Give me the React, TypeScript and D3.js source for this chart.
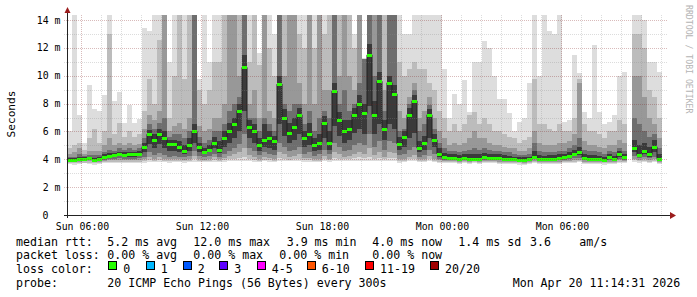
import React from 'react';
import * as d3 from 'd3';

// ---- data: 15-minute steps starting Sun Apr 19 2026 05:18 ----
const median: (number | null)[] = [
  3.95,3.95,4.0,4.05,4.1,3.95,4.05,4.2,4.25,4.3,4.4,4.3,4.35,4.35,4.4,
  4.9,5.8,5.4,5.8,5.5,5.1,5.1,4.9,4.6,5.0,6.0,4.9,4.5,4.7,5.2,
  4.7,5.5,6.0,6.5,7.5,10.6,6.3,6.0,5.0,5.4,5.5,5.3,9.4,7.0,5.9,
  6.3,7.2,5.5,5.8,5.0,5.2,6.6,5.2,8.9,6.8,6.0,6.2,7.2,8.0,7.3,
  11.5,7.2,9.6,6.2,9.5,8.7,5.1,5.6,7.2,8.2,4.8,5.2,7.2,5.4,4.4,
  4.15,4.1,4.1,4.05,4.1,4.05,4.05,4.05,4.2,4.1,4.1,4.1,4.05,4.0,4.0,
  3.95,3.95,4.0,4.2,4.05,4.0,4.05,4.05,4.1,4.15,4.25,4.4,4.5,4.1,4.05,
  4.05,4.0,3.95,4.15,4.0,4.35,4.15,null,4.8,4.3,4.6,4.35,4.9,4.05,null,
];

const hi1: (number | null)[] = [
  6.0,14.4,7.2,5.2,9.3,7.6,7.5,8.6,14.4,8.2,8.8,6.6,7.9,6.6,6.9,
  13.4,13.2,14.4,14.4,14.4,11.0,14.4,14.4,14.4,14.4,14.4,9.8,14.4,11.0,14.4,
  14.4,14.4,14.4,14.4,14.4,14.4,14.4,14.4,11.6,14.4,14.4,13.0,14.4,14.4,14.4,
  14.4,14.4,14.4,14.4,14.4,14.4,14.4,14.4,14.4,14.4,14.4,14.4,13.0,14.4,11.3,
  14.4,14.4,14.4,14.4,14.4,14.4,14.4,13.0,13.0,14.4,14.4,14.4,14.4,14.4,14.4,
  10.5,7.0,8.7,8.0,9.7,7.4,11.0,11.0,12.5,12.0,10.0,8.3,8.3,7.3,6.0,
  6.7,7.0,9.5,14.4,10.0,14.4,13.2,13.0,14.4,6.7,6.8,11.5,10.2,7.4,7.0,
  12.2,7.4,6.5,6.7,7.2,10.0,10.3,null,14.4,14.4,14.0,11.0,11.0,10.3,null,
];
const hi2: (number | null)[] = [
  4.8,5.0,5.2,4.7,5.5,6.2,5.2,6.0,13.0,5.8,6.6,5.6,6.0,5.6,5.8,
  7.5,9.8,8.0,12.6,14.4,7.0,10.0,14.4,9.8,14.4,14.4,9.0,8.0,9.0,11.0,
  11.0,14.4,14.4,14.4,14.4,14.4,11.0,14.4,10.8,14.4,12.0,10.0,14.4,14.4,14.4,
  14.4,13.0,12.0,14.4,12.0,14.4,13.0,14.4,14.4,14.4,14.4,14.4,12.0,14.4,11.2,
  14.4,14.4,14.4,14.4,14.4,14.4,11.0,10.0,10.5,11.0,10.5,10.5,9.5,9.0,7.5,
  7.0,6.0,6.5,6.0,6.5,7.2,7.4,6.5,7.0,6.5,6.0,6.0,5.8,5.6,5.5,
  5.2,5.4,5.6,9.8,6.5,6.5,6.2,6.0,6.5,6.0,6.0,7.0,9.8,6.5,6.0,
  6.0,5.8,5.5,6.0,6.0,6.8,6.5,null,13.0,13.0,12.0,9.0,8.5,7.0,null,
];
const hi3: (number | null)[] = [
  4.4,4.5,4.8,4.4,4.6,4.6,4.6,5.0,5.5,5.0,5.2,5.0,5.2,5.0,5.1,
  6.2,7.2,6.8,7.5,14.4,6.0,6.4,6.6,6.2,7.0,14.4,6.4,6.0,6.2,7.0,
  7.0,8.0,14.4,14.4,10.0,14.4,8.0,9.0,7.0,14.4,7.5,7.0,14.4,10.0,14.4,
  14.4,9.5,8.0,14.4,8.0,14.4,9.0,9.0,14.4,10.0,14.4,10.0,9.0,14.4,11.2,
  14.4,14.4,14.4,9.0,14.4,14.4,7.5,7.0,8.5,9.5,7.0,7.5,8.5,7.0,6.0,
  5.5,5.0,5.2,5.0,5.2,5.5,6.0,5.5,5.5,5.2,5.0,5.0,4.9,4.8,4.8,
  4.6,4.6,4.8,6.0,5.2,5.0,5.0,5.0,5.2,5.2,5.3,5.8,9.5,5.3,5.0,
  5.0,4.9,4.8,5.0,5.0,5.4,5.2,null,10.0,10.0,8.5,7.0,6.5,5.5,null,
];
const hi4: (number | null)[] = [
  4.2,4.2,4.4,4.25,4.3,4.3,4.3,4.5,4.7,4.6,4.8,4.7,4.8,4.7,4.8,
  5.5,6.5,6.2,6.6,7.0,5.6,5.8,5.8,5.5,6.0,14.4,5.6,5.2,5.4,6.0,
  6.0,6.5,7.5,8.0,8.5,14.4,7.0,7.0,6.0,7.0,6.5,6.0,14.4,8.0,7.5,
  8.0,8.0,6.5,7.5,6.0,7.0,7.5,7.0,14.4,8.0,9.0,7.5,8.0,9.5,11.2,
  14.4,10.0,14.4,7.5,14.4,14.4,6.0,6.2,8.0,9.0,6.0,6.5,7.9,6.2,5.2,
  4.8,4.6,4.6,4.5,4.6,4.7,4.8,4.7,4.8,4.7,4.6,4.6,4.5,4.5,4.4,
  4.3,4.3,4.4,5.2,4.6,4.5,4.5,4.5,4.6,4.6,4.8,5.0,5.5,4.7,4.6,
  4.6,4.5,4.4,4.6,4.5,4.8,4.6,null,7.0,6.5,6.0,5.6,5.8,4.8,null,
];
const hi5: (number | null)[] = [
  4.1,4.1,4.2,4.15,4.2,4.1,4.2,4.35,4.45,4.45,4.55,4.5,4.55,4.55,4.6,
  5.2,6.1,5.8,6.2,6.0,5.4,5.4,5.3,5.0,5.5,6.5,5.2,4.8,5.0,5.6,
  5.3,6.0,6.6,7.0,8.0,11.5,6.8,6.5,5.5,6.5,6.0,5.7,10.0,7.6,6.6,
  7.0,7.7,6.0,6.6,5.5,5.8,7.1,6.0,9.5,7.4,6.8,6.8,7.7,8.6,8.0,
  12.3,8.2,10.3,6.8,10.0,9.3,5.6,6.0,7.7,8.6,5.3,5.7,7.6,5.8,4.8,
  4.45,4.35,4.35,4.3,4.35,4.35,4.4,4.35,4.45,4.35,4.35,4.35,4.3,4.25,4.2,
  4.15,4.15,4.2,4.6,4.3,4.25,4.3,4.3,4.35,4.4,4.5,4.7,4.9,4.4,4.3,
  4.3,4.25,4.2,4.35,4.25,4.6,4.4,null,5.4,5.0,5.2,4.9,5.4,4.4,null,
];

const lo1: (number | null)[] = [
  3.65,3.62,3.65,3.7,3.68,3.6,3.65,3.7,3.72,3.7,3.75,3.7,3.72,3.7,3.72,
  3.75,3.8,3.78,3.8,3.78,3.75,3.8,3.78,3.75,3.8,3.82,3.8,3.78,3.8,3.82,
  3.78,3.8,3.85,3.88,3.9,3.9,3.85,3.82,3.8,3.85,3.82,3.8,3.9,3.88,3.85,
  3.85,3.9,3.82,3.8,3.78,3.8,3.85,3.82,3.9,3.88,3.85,3.85,3.9,3.9,3.88,
  3.9,3.85,3.9,3.85,3.9,3.9,3.75,3.8,3.85,3.88,3.78,3.8,3.85,3.8,3.75,
  3.72,3.7,3.7,3.68,3.7,3.68,3.7,3.68,3.72,3.7,3.7,3.68,3.68,3.66,3.65,
  3.62,3.6,3.65,3.7,3.66,3.65,3.66,3.66,3.68,3.7,3.72,3.75,3.78,3.68,3.66,
  3.66,3.64,3.62,3.66,3.65,3.72,3.7,null,3.8,3.75,3.78,3.75,3.8,3.68,null,
];
const lo2: (number | null)[] = [
  3.72,3.7,3.72,3.76,3.75,3.7,3.72,3.78,3.8,3.8,3.82,3.8,3.8,3.8,3.82,
  3.85,3.95,3.9,3.95,3.9,3.85,3.9,3.88,3.85,3.9,4.0,3.9,3.85,3.9,3.95,
  3.88,3.92,4.0,4.05,4.1,4.2,4.0,3.95,3.9,3.95,3.92,3.9,4.1,4.05,3.98,
  4.0,4.05,3.95,3.92,3.88,3.9,4.0,3.92,4.1,4.05,4.0,4.0,4.1,4.15,4.1,
  4.2,4.0,4.1,4.0,4.1,4.1,3.85,3.9,4.0,4.0,3.88,3.9,4.0,3.9,3.82,
  3.8,3.78,3.78,3.76,3.78,3.76,3.78,3.76,3.8,3.78,3.78,3.76,3.76,3.74,3.73,
  3.7,3.68,3.72,3.8,3.74,3.72,3.74,3.74,3.76,3.78,3.8,3.84,3.86,3.76,3.74,
  3.74,3.72,3.7,3.75,3.73,3.82,3.78,null,3.92,3.85,3.88,3.84,3.9,3.76,null,
];
const lo3: (number | null)[] = [
  3.8,3.78,3.82,3.85,3.85,3.78,3.82,3.88,3.92,3.92,3.95,3.92,3.92,3.92,3.95,
  4.0,4.15,4.05,4.15,4.05,4.0,4.05,4.0,3.98,4.05,4.25,4.05,3.98,4.05,4.15,
  4.0,4.1,4.25,4.35,4.5,4.8,4.3,4.2,4.05,4.15,4.1,4.05,4.5,4.35,4.2,
  4.25,4.35,4.1,4.1,4.02,4.05,4.25,4.05,4.5,4.35,4.2,4.25,4.4,4.5,4.4,
  4.8,4.3,4.5,4.2,4.5,4.45,4.0,4.05,4.2,4.3,4.0,4.05,4.25,4.05,3.92,
  3.88,3.85,3.85,3.83,3.86,3.83,3.85,3.84,3.88,3.86,3.86,3.84,3.84,3.82,3.8,
  3.78,3.76,3.8,3.9,3.82,3.8,3.82,3.82,3.84,3.86,3.9,3.95,3.98,3.84,3.82,
  3.82,3.8,3.78,3.84,3.8,3.92,3.86,null,4.05,3.95,4.0,3.94,4.02,3.84,null,
];
const lo4: (number | null)[] = [
  3.86,3.85,3.88,3.92,3.92,3.85,3.9,3.98,4.02,4.04,4.08,4.04,4.05,4.05,4.08,
  4.2,4.5,4.3,4.45,4.3,4.2,4.25,4.2,4.15,4.25,4.6,4.25,4.15,4.25,4.4,
  4.2,4.4,4.6,4.8,5.1,5.8,4.8,4.6,4.3,4.5,4.4,4.3,5.2,4.9,4.6,
  4.7,4.9,4.4,4.5,4.25,4.35,4.7,4.35,5.2,4.9,4.6,4.7,5.0,5.2,5.0,
  5.8,4.9,5.3,4.7,5.3,5.2,4.3,4.4,4.7,4.9,4.2,4.3,4.7,4.4,4.05,
  3.96,3.93,3.93,3.9,3.94,3.9,3.92,3.92,3.98,3.94,3.94,3.92,3.9,3.88,3.87,
  3.85,3.84,3.88,4.02,3.9,3.88,3.9,3.9,3.93,3.96,4.0,4.08,4.12,3.93,3.9,
  3.9,3.88,3.85,3.94,3.88,4.05,3.95,null,4.25,4.08,4.2,4.06,4.2,3.93,null,
];
const lo5: (number | null)[] = [
  3.9,3.9,3.94,3.98,4.0,3.9,3.96,4.08,4.12,4.15,4.22,4.15,4.18,4.18,4.22,
  4.5,5.1,4.8,5.1,4.8,4.6,4.6,4.5,4.35,4.6,5.2,4.55,4.35,4.5,4.8,
  4.45,4.9,5.2,5.5,6.0,7.5,5.5,5.2,4.6,4.9,4.8,4.7,6.5,5.7,5.2,
  5.4,5.8,4.9,5.0,4.6,4.7,5.5,4.7,6.4,5.7,5.2,5.4,5.9,6.2,5.8,
  7.8,5.8,6.5,5.4,6.5,6.2,4.7,4.9,5.5,5.9,4.5,4.7,5.5,4.9,4.2,
  4.05,4.0,4.0,3.96,4.02,3.96,3.98,3.98,4.08,4.02,4.02,4.0,3.96,3.94,3.93,
  3.9,3.9,3.94,4.1,3.97,3.94,3.97,3.97,4.0,4.05,4.12,4.22,4.3,4.0,3.97,
  3.97,3.94,3.9,4.05,3.94,4.18,4.05,null,4.5,4.2,4.4,4.2,4.5,4.0,null,
];

const yTicks = [0, 2, 4, 6, 8, 10, 12, 14];
const lossLabels = ['0', '1', '2', '3', '4-5', '6-10', '11-19', '20/20'];
const lossColors = ['#26ff00', '#00b8ff', '#0059ff', '#5e00ff', '#ff00ff', '#ff5500', '#ff0000', '#a10000'];

const MONO = '"DejaVu Sans Mono", monospace';

export default function App() {
  const N = median.length;
  const t0 = new Date(2026, 3, 19, 5, 18);
  const times = d3.range(N + 1).map((i) => d3.timeMinute.offset(t0, i * 15));
  const x = d3.scaleTime().domain([t0, times[N]]).range([67, 667]);
  const y = d3.scaleLinear().domain([0, 14.36]).range([215, 15]).clamp(true);

  const layers = [
    { lo: lo1, hi: hi1, color: '#dddddd' },
    { lo: lo2, hi: hi2, color: '#bcbcbc' },
    { lo: lo3, hi: hi3, color: '#989898' },
    { lo: lo4, hi: hi4, color: '#6e6e6e' },
    { lo: lo5, hi: hi5, color: '#3a3a3a' },
  ];

  const minorH = d3.range(1, 15).filter((v) => v % 2 !== 0);
  const majorH = yTicks.filter((v) => v > 0);
  const hours = d3.timeHour.range(t0, times[N]);
  const majorV = hours.filter((h) => h.getHours() % 6 === 0);
  const minorV = hours.filter((h) => h.getHours() % 6 !== 0);
  const fmt = d3.timeFormat('%a %H:%M');

  const medLine = d3
    .line<number | null>()
    .defined((d) => d != null)
    .x((_, i) => x(times[i]))
    .y((d) => y(d as number))
    .curve(d3.curveStepAfter);

  const legendY = [245.5, 259.3, 273, 286.7];
  const boxX = [108.3, 145.7, 182.7, 219.3, 256.7, 306.7, 365, 430];

  const rows: [string, number, number][] = [
    ['median rtt:', 16, 0],
    ['5.2 ms avg', 107.3, 0],
    ['12.0 ms max', 193.3, 0],
    ['3.9 ms min', 286.7, 0],
    ['4.0 ms now', 372.3, 0],
    ['1.4 ms sd', 458.3, 0],
    ['3.6', 530, 0],
    ['am/s', 579.3, 0],
    ['packet loss:', 16, 1],
    ['0.00 % avg', 107.3, 1],
    ['0.00 % max', 193.3, 1],
    ['0.00 % min', 279.3, 1],
    ['0.00 % now', 372.3, 1],
    ['loss color:', 16, 2],
    ['probe:', 16, 3],
    ['20 ICMP Echo Pings (56 Bytes) every 300s', 107.3, 3],
    ['Mon Apr 20 11:14:31 2026', 512.7, 3],
  ];

  return (
    <svg width={697} height={297} style={{ display: 'block', position: 'absolute', left: 0, top: 0, background: '#fff' }}>
      <rect x={0} y={0} width={697} height={297} fill="#ffffff" />
      {/* smoke */}
      {layers.map((L, li) => (
        <g key={li} fill={L.color} shapeRendering="crispEdges">
          {L.hi.map((h, i) =>
            h == null || L.lo[i] == null ? null : (
              <rect
                key={i}
                x={x(times[i])}
                width={x(times[i + 1]) - x(times[i])}
                y={y(h)}
                height={y(L.lo[i] as number) - y(h)}
              />
            )
          )}
        </g>
      ))}
      {/* median dark line */}
      <path d={medLine(median) || ''} fill="none" stroke="#202020" strokeWidth={1} />
      {/* median loss-colored band */}
      <g fill={lossColors[0]} shapeRendering="crispEdges">
        {median.map((m, i) =>
          m == null ? null : (
            <rect key={i} x={x(times[i])} width={x(times[i + 1]) - x(times[i])} y={Math.round(y(m)) - 1.5} height={3} />
          )
        )}
      </g>
      {/* grid */}
      <g strokeWidth={1} strokeDasharray="1,1" shapeRendering="crispEdges">
        {minorH.map((v) => (
          <line key={'mh' + v} x1={64} x2={667} y1={Math.round(y(v)) + 0.5} y2={Math.round(y(v)) + 0.5} stroke="rgba(140,140,140,0.30)" />
        ))}
        {minorV.map((h, i) => (
          <line key={'mv' + i} x1={Math.round(x(h)) + 0.5} x2={Math.round(x(h)) + 0.5} y1={15} y2={218} stroke="rgba(140,140,140,0.30)" />
        ))}
        {majorH.map((v) => (
          <line key={'Mh' + v} x1={64} x2={667} y1={Math.round(y(v)) + 0.5} y2={Math.round(y(v)) + 0.5} stroke="rgba(130,30,30,0.30)" />
        ))}
        {majorV.map((h, i) => (
          <line key={'Mv' + i} x1={Math.round(x(h)) + 0.5} x2={Math.round(x(h)) + 0.5} y1={15} y2={218} stroke="rgba(130,30,30,0.30)" />
        ))}
      </g>
      {/* axes */}
      <g shapeRendering="crispEdges" stroke="#222">
        <line x1={64} x2={671} y1={215.5} y2={215.5} />
        <line x1={67.5} x2={67.5} y1={218} y2={12} />
      </g>
      <path d="M670,212 L676,215.5 L670,219 Z" fill="#9b1c1c" />
      <path d="M64.5,13 L67.5,7 L70.5,13 Z" fill="#9b1c1c" />
      {/* y labels */}
      <g fontFamily={MONO} fontSize={9.9} fill="#000">
        {yTicks.map((v) => (
          <text key={v} x={v === 0 ? 48.5 : 60.5} y={y(v) + 3.6} textAnchor="end">
            {v === 0 ? '0' : `${v} m`}
          </text>
        ))}
        {majorV.map((h, i) => (
          <text key={i} x={x(h) + 1.5} y={229.5} textAnchor="middle">
            {fmt(h)}
          </text>
        ))}
      </g>
      <text transform="translate(15,114) rotate(-90)" textAnchor="middle" fontFamily={MONO} fontSize={11.2} fill="#000">
        Seconds
      </text>
      <text transform="translate(686,5) rotate(90)" fontFamily={MONO} fontSize={8.2} fill="#b4b4b4">
        RRDTOOL / TOBI OETIKER
      </text>
      {/* legend */}
      <g fontFamily={MONO} fontSize={11.6} fill="#000">
        {rows.map(([s, lx, r], i) => (
          <text key={i} x={lx} y={legendY[r]}>
            {s}
          </text>
        ))}
        {lossLabels.map((l, i) => (
          <text key={'ll' + i} x={boxX[i] + 15} y={legendY[2]}>
            {l}
          </text>
        ))}
      </g>
      <g shapeRendering="crispEdges">
        {lossColors.map((c, i) => (
          <rect key={i} x={Math.round(boxX[i]) + 0.5} y={261.5} width={8} height={8} fill={c} stroke="#000" strokeWidth={1} />
        ))}
      </g>
    </svg>
  );
}
